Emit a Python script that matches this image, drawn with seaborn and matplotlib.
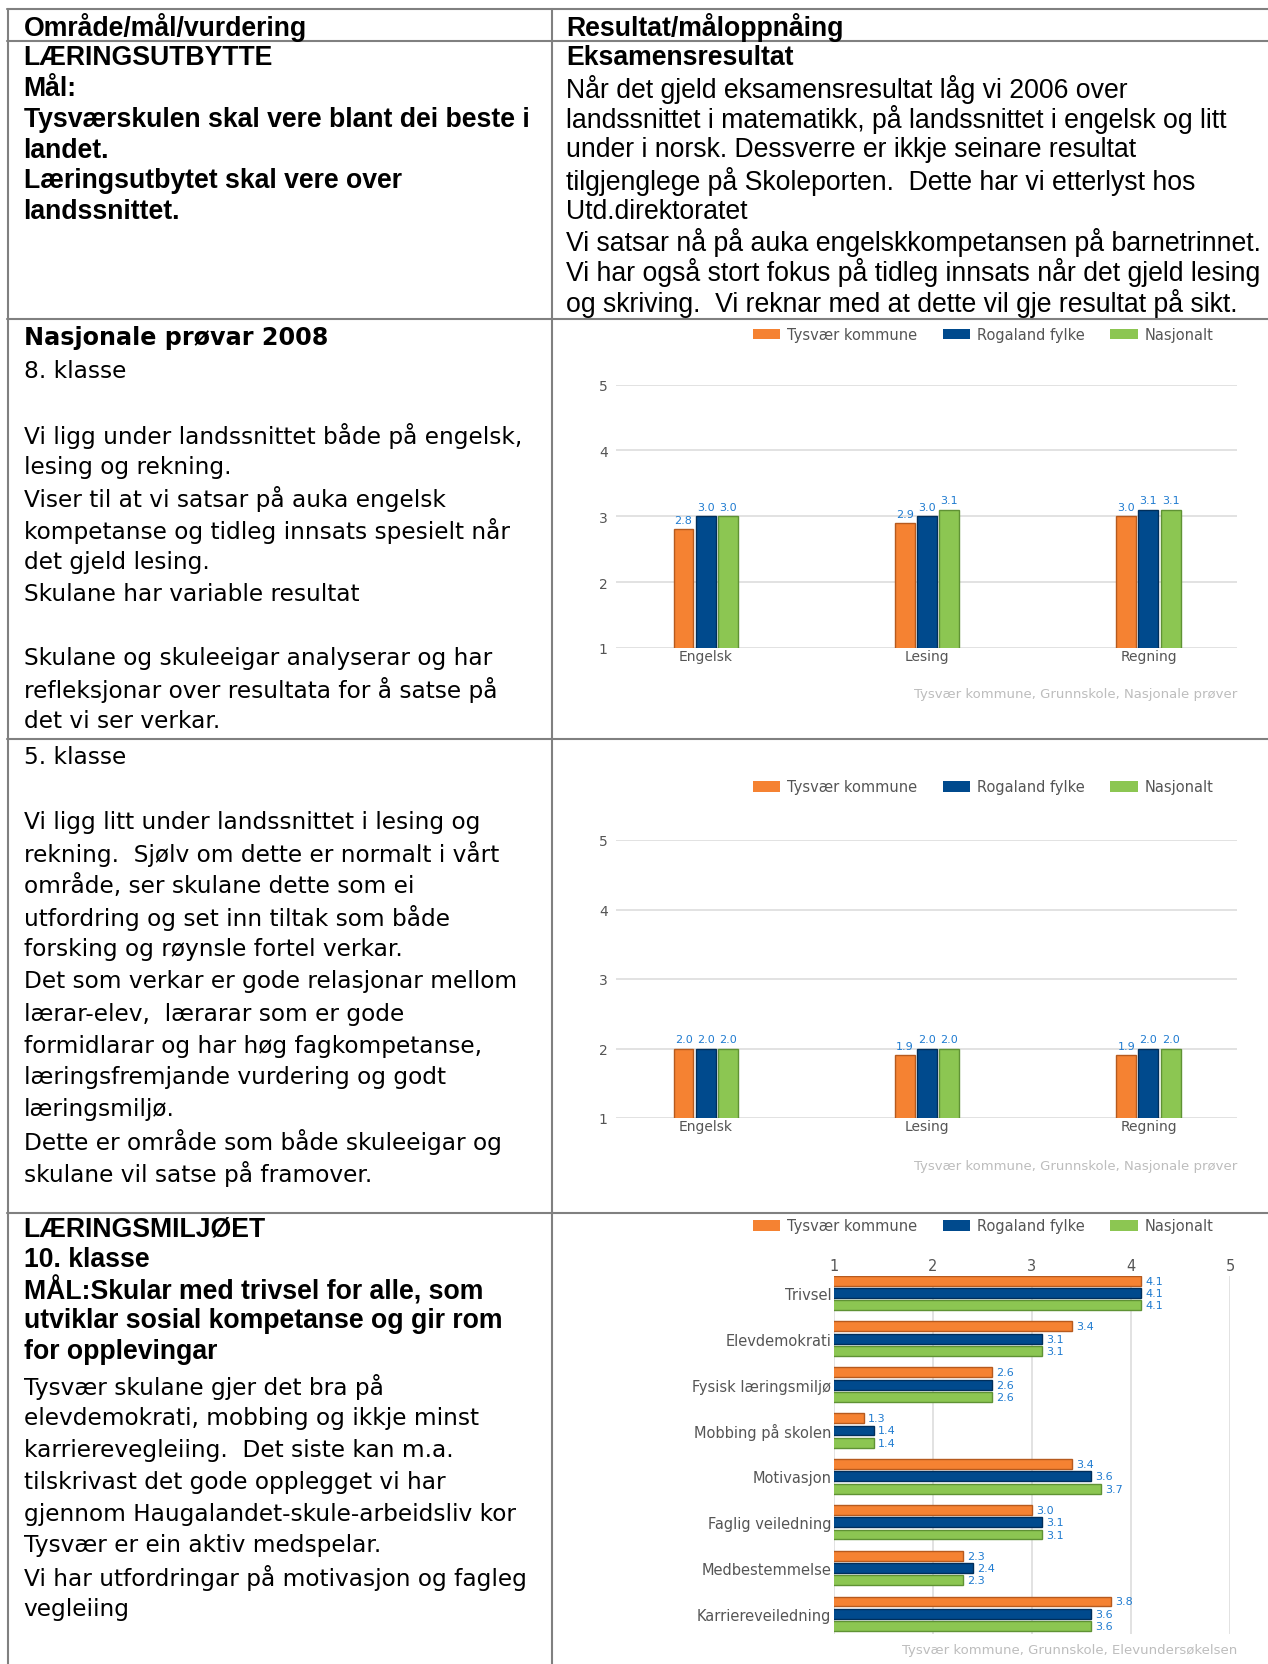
import matplotlib
matplotlib.use('Agg')
import matplotlib.pyplot as plt
import seaborn as sns
import pandas as pd
from matplotlib.patches import Patch
from matplotlib.lines import Line2D

# --- data -------------------------------------------------------------
series = ['Tysvær kommune', 'Rogaland fylke', 'Nasjonalt']
subjects = ['Engelsk', 'Lesing', 'Regning']

k8_tysvaer = [2.8, 2.9, 3.0]
k8_rogaland = [3.0, 3.0, 3.1]
k8_nasjonalt = [3.0, 3.1, 3.1]

k5_tysvaer = [2.0, 1.9, 1.9]
k5_rogaland = [2.0, 2.0, 2.0]
k5_nasjonalt = [2.0, 2.0, 2.0]

miljo_cats = ['Trivsel', 'Elevdemokrati', 'Fysisk læringsmiljø', 'Mobbing på skolen',
              'Motivasjon', 'Faglig veiledning', 'Medbestemmelse', 'Karriereveiledning']
k10_tysvaer = [4.1, 3.4, 2.6, 1.3, 3.4, 3.0, 2.3, 3.8]
k10_rogaland = [4.1, 3.1, 2.6, 1.4, 3.6, 3.1, 2.4, 3.6]
k10_nasjonalt = [4.1, 3.1, 2.6, 1.4, 3.7, 3.1, 2.3, 3.6]

src_np = 'Tysvær kommune, Grunnskole, Nasjonale prøver'
src_eu = 'Tysvær kommune, Grunnskole, Elevundersøkelsen'

# --- table texts ------------------------------------------------------
head_left = 'Område/mål/vurdering'
head_right = 'Resultat/måloppnåing'
r1_left = ['LÆRINGSUTBYTTE', 'Mål:', 'Tysværskulen skal vere blant dei beste i',
           'landet.', 'Læringsutbytet skal vere over', 'landssnittet.']
r1_right_title = 'Eksamensresultat'
r1_right = ['Når det gjeld eksamensresultat låg vi 2006 over',
            'landssnittet i matematikk, på landssnittet i engelsk og litt',
            'under i norsk. Dessverre er ikkje seinare resultat',
            'tilgjenglege på Skoleporten.  Dette har vi etterlyst hos',
            'Utd.direktoratet',
            'Vi satsar nå på auka engelskkompetansen på barnetrinnet.',
            'Vi har også stort fokus på tidleg innsats når det gjeld lesing',
            'og skriving.  Vi reknar med at dette vil gje resultat på sikt.']
r2_title = 'Nasjonale prøvar 2008'
r2_left = ['8. klasse', '', 'Vi ligg under landssnittet både på engelsk,',
           'lesing og rekning.', 'Viser til at vi satsar på auka engelsk',
           'kompetanse og tidleg innsats spesielt når', 'det gjeld lesing.',
           'Skulane har variable resultat', '',
           'Skulane og skuleeigar analyserar og har',
           'refleksjonar over resultata for å satse på', 'det vi ser verkar.']
r3_left = ['5. klasse', '', 'Vi ligg litt under landssnittet i lesing og',
           'rekning.  Sjølv om dette er normalt i vårt', 'område, ser skulane dette som ei',
           'utfordring og set inn tiltak som både', 'forsking og røynsle fortel verkar.',
           'Det som verkar er gode relasjonar mellom', 'lærar-elev,  lærarar som er gode',
           'formidlarar og har høg fagkompetanse,', 'læringsfremjande vurdering og godt',
           'læringsmiljø.', 'Dette er område som både skuleeigar og',
           'skulane vil satse på framover.']
r4_bold = ['LÆRINGSMILJØET', '10. klasse', 'MÅL:Skular med trivsel for alle, som',
           'utviklar sosial kompetanse og gir rom', 'for opplevingar']
r4_left = ['Tysvær skulane gjer det bra på', 'elevdemokrati, mobbing og ikkje minst',
           'karrierevegleiing.  Det siste kan m.a.', 'tilskrivast det gode opplegget vi har',
           'gjennom Haugalandet-skule-arbeidsliv kor', 'Tysvær er ein aktiv medspelar.',
           'Vi har utfordringar på motivasjon og fagleg', 'vegleiing']

colors = ['#F58232', '#004A8D', '#8CC652']
edges = ['#B65A1E', '#002E5A', '#5F9234']
val_blue = '#1F7BD0'
grid_c = '#DDDDDD'
txt_gray = '#555555'

sns.set_theme(style='white')
plt.rcParams['font.family'] = ['DejaVu Sans']

W, H = 1268, 1665
fig = plt.figure(figsize=(W / 100, H / 100), dpi=100)
renderer = fig.canvas.get_renderer()


def fx(px):
    return px / W


def fy(py):
    return 1 - py / H


def fit_size(text, family, weight, target):
    t = fig.text(0, 0, text, fontsize=20, family=family, weight=weight)
    w = t.get_window_extent(renderer).width
    t.remove()
    return 20 * target / w


def put_lines(x, y0, pitch, lines, size, family, weight='normal'):
    for i, s in enumerate(lines):
        if s:
            fig.text(fx(x), fy(y0 + i * pitch), s, fontsize=size, family=family,
                     weight=weight, ha='left', va='center', color='black')


# --- table grid -------------------------------------------------------
line_c = '#808080'
for y in [10, 42, 320, 740, 1214]:
    fig.add_artist(Line2D([fx(7), 1], [fy(y), fy(y)], transform=fig.transFigure,
                          color=line_c, lw=1.5))
for x in [7.5, 551.5]:
    fig.add_artist(Line2D([fx(x), fx(x)], [fy(10), 0], transform=fig.transFigure,
                          color=line_c, lw=1.5))

# --- table text -------------------------------------------------------
arial = 'Liberation Sans'
tahoma = 'DejaVu Sans'
s_b1 = fit_size(r1_left[2], arial, 'bold', 506)
s_r1 = fit_size(r1_right[5], arial, 'normal', 694)
put_lines(23.5, 27, 0, [head_left], s_b1, arial, 'bold')
put_lines(566, 27, 0, [head_right], s_b1, arial, 'bold')
put_lines(23.5, 58.4, 30.7, r1_left, s_b1, arial, 'bold')
put_lines(566, 58.4, 0, [r1_right_title], s_b1, arial, 'bold')
put_lines(566, 89.2, 30.6, r1_right, s_r1, arial)

s_t2 = fit_size(r2_title, tahoma, 'bold', 304)
s_r2 = fit_size(r2_left[2], tahoma, 'normal', 499)
put_lines(23.5, 338, 0, [r2_title], s_t2, tahoma, 'bold')
put_lines(23.5, 372, 31.8, r2_left, s_r2, tahoma)
put_lines(23.5, 758, 32.0, r3_left, s_r2, tahoma)

s_b4 = fit_size(r4_bold[3], arial, 'bold', 479)
put_lines(23.5, 1230, 30.5, r4_bold, s_b4, arial, 'bold')
put_lines(23.5, 1387, 31.8, r4_left, s_r2, tahoma)


# --- charts -----------------------------------------------------------
def long_df(cats, a, b, c):
    return pd.DataFrame({'cat': cats * 3,
                         'serie': [series[0]] * len(cats) + [series[1]] * len(cats)
                         + [series[2]] * len(cats),
                         'val': a + b + c})


def style_bars(ax):
    for cont, ec in zip(ax.containers, edges):
        for bar in cont:
            bar.set_edgecolor(ec)
            bar.set_linewidth(1.0)
        ax.bar_label(cont, fmt='%.1f', padding=3, color=val_blue, fontsize=8)


def add_legend(ax, y):
    handles = [Patch(facecolor=c, edgecolor='none', label=s) for c, s in zip(colors, series)]
    ax.legend(handles=handles, loc='center', bbox_to_anchor=(fx(983), fy(y)),
              bbox_transform=fig.transFigure, ncol=3, frameon=False, fontsize=10.5,
              handlelength=1.9, handleheight=0.75, handletextpad=0.45,
              columnspacing=1.75, labelcolor=txt_gray)


def vbar_chart(top, bottom, a, b, c, legend_y, src_y):
    left, right = 616, 1237
    ax = fig.add_axes([fx(left), fy(bottom), (right - left) / W, (bottom - top) / H])
    df = long_df(subjects, a, b, c)
    sns.barplot(data=df, x='cat', y='val', hue='serie', hue_order=series,
                palette=colors, width=0.3, gap=0.1, saturation=1, legend=False, ax=ax)
    style_bars(ax)
    ax.set_ylim(1, 5)
    ax.set_xlim(-0.405, 2.40)
    ax.set_yticks([1, 2, 3, 4, 5])
    ax.grid(axis='y', color=grid_c, lw=1.2)
    ax.grid(axis='x', visible=False)
    ax.set_axisbelow(True)
    for sp in ax.spines.values():
        sp.set_visible(False)
    ax.set_facecolor('none')
    ax.tick_params(length=0, labelsize=10, labelcolor=txt_gray)
    ax.tick_params(axis='y', pad=6)
    ax.tick_params(axis='x', pad=1)
    ax.set_xlabel('')
    ax.set_ylabel('')
    add_legend(ax, legend_y)
    fig.text(fx(1237), fy(src_y), src_np, ha='right', va='center',
             color='#BDBDBD', fontsize=9.5)


vbar_chart(385.5, 649, k8_tysvaer, k8_rogaland, k8_nasjonalt, 335.5, 694.5)
vbar_chart(841, 1119, k5_tysvaer, k5_rogaland, k5_nasjonalt, 788, 1167)

# horizontal chart
top, bottom, left, right = 1277, 1635, 834, 1230
ax = fig.add_axes([fx(left), fy(bottom), (right - left) / W, (bottom - top) / H])
df = long_df(miljo_cats, k10_tysvaer, k10_rogaland, k10_nasjonalt)
sns.barplot(data=df, y='cat', x='val', hue='serie', hue_order=series, orient='h',
            palette=colors, width=0.81, gap=0.2, saturation=1, legend=False, ax=ax)
style_bars(ax)
ax.set_xlim(1, 5)
ax.set_ylim(7.44, -0.37)
ax.set_xticks([1, 2, 3, 4, 5])
ax.xaxis.tick_top()
ax.grid(axis='x', color=grid_c, lw=1.2)
ax.grid(axis='y', visible=False)
ax.set_axisbelow(True)
for sp in ax.spines.values():
    sp.set_visible(False)
ax.set_facecolor('none')
ax.tick_params(length=0, labelsize=10.5, labelcolor=txt_gray)
ax.tick_params(axis='x', pad=2)
ax.tick_params(axis='y', pad=2)
ax.set_xlabel('')
ax.set_ylabel('')
add_legend(ax, 1227)
fig.text(fx(1237), fy(1651), src_eu, ha='right', va='center', color='#BDBDBD', fontsize=9.5)

fig.savefig('out.png', dpi=100, facecolor='white')
